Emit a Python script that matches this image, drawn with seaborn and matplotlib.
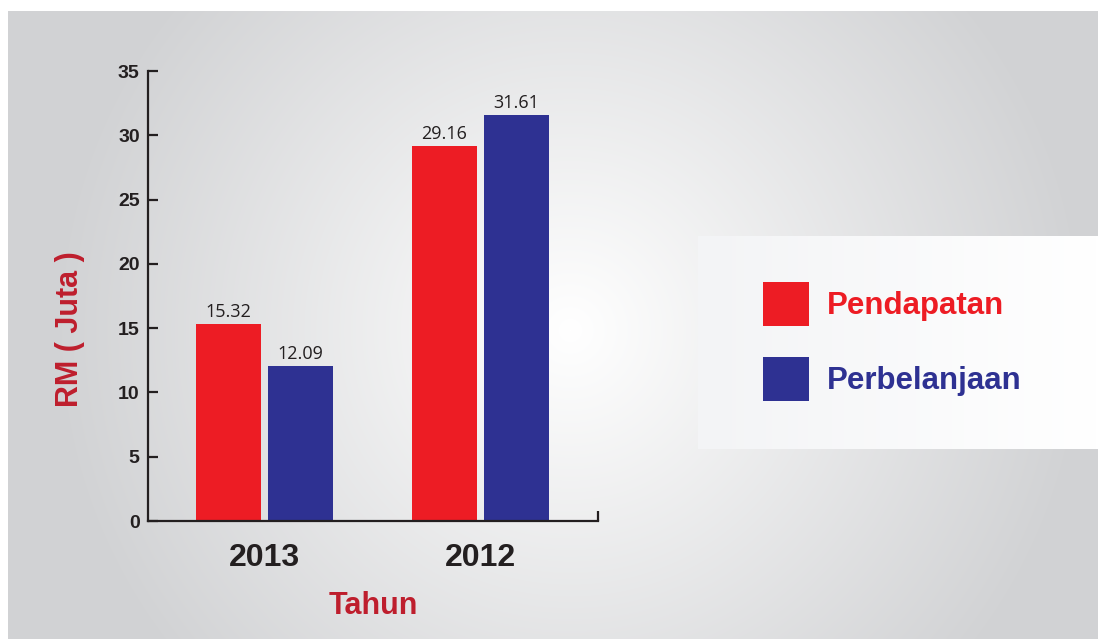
import numpy as np
import pandas as pd
import seaborn as sns
import matplotlib.pyplot as plt
from matplotlib.patches import Patch

# data
tahun = ['2013', '2012']
pendapatan = [15.32, 29.16]
perbelanjaan = [12.09, 31.61]
series = ['Pendapatan', 'Perbelanjaan']
yticks = [0, 5, 10, 15, 20, 25, 30, 35]

RED = '#ED1C24'
BLUE = '#2E3192'
CRIMSON = '#BE1E2D'
INK = '#231F20'

df = pd.DataFrame({
    'Tahun': tahun * 2,
    'Jenis': [series[0]] * 2 + [series[1]] * 2,
    'Nilai': pendapatan + perbelanjaan,
})

sns.set_style('white')
plt.rcParams['font.family'] = ['Liberation Sans', 'DejaVu Sans']

W, H = 1098, 639
fig = plt.figure(figsize=(W / 100, H / 100), dpi=100)
fig.patch.set_facecolor('white')

# background: radial gradient panel + legend box
bg = fig.add_axes([0, 0, 1, 1], zorder=-5)
bg.axis('off')
yy, xx = np.mgrid[11:H, 8:W]
r = np.sqrt((xx - 570) ** 2 + (yy - 330) ** 2)
t = np.clip(r / 520, 0, 1)[..., None]
gray = np.array([209, 210, 212]) / 255
img = (1 - t) * np.ones(3) + t * gray
bg.imshow(img, extent=[8, W, H, 11], aspect='auto', interpolation='bilinear')
gx = np.linspace(0, 1, 200)
c0 = np.array([243, 244, 246]) / 255
box = (1 - gx)[None, :, None] * c0 + gx[None, :, None] * np.ones(3)
box = np.repeat(box, 2, axis=0)
bg.imshow(box, extent=[698, W, 449, 236], aspect='auto')
bg.set_xlim(0, W)
bg.set_ylim(H, 0)

ax = fig.add_axes([148 / W, 1 - 521 / H, 450 / W, 450 / H])
ax.set_facecolor('none')

sns.barplot(data=df, x='Tahun', y='Nilai', hue='Jenis', order=tahun,
            hue_order=series, palette={series[0]: RED, series[1]: BLUE},
            width=0.667, gap=0.1, saturation=1, linewidth=0, ax=ax, legend=False)

for cont in ax.containers:
    ax.bar_label(cont, fmt='%.2f', padding=2, fontsize=13, color=INK,
                 family=['Open Sans', 'DejaVu Sans'])

ax.set_ylim(0, 35)
ax.set_xlim(-0.539, 1.544)
ax.set_yticks(yticks)
ax.set_yticklabels([str(v) for v in yticks], fontsize=14, fontweight='bold', color=INK)
ax.tick_params(axis='y', left=True, direction='in', length=7, width=1.6, color=INK, pad=6)
ax.tick_params(axis='x', which='major', length=0, pad=16, labelsize=23, labelcolor=INK)
for lab in ax.get_xticklabels():
    lab.set_fontweight('bold')
ax.set_xticks([ax.get_xlim()[1]], minor=True)
ax.tick_params(axis='x', which='minor', bottom=True, direction='in', length=7.5,
               width=1.6, color=INK)

for side in ['top', 'right']:
    ax.spines[side].set_visible(False)
for side in ['left', 'bottom']:
    ax.spines[side].set_color(INK)
    ax.spines[side].set_linewidth(1.6)

ax.set_xlabel('Tahun', fontsize=22, fontweight='bold', color=CRIMSON, labelpad=13)
ax.set_ylabel('RM ( Juta )', fontsize=22, fontweight='bold', color=CRIMSON)
ax.yaxis.set_label_coords(-0.141, 0.427)

handles = [Patch(facecolor=RED, edgecolor='none'), Patch(facecolor=BLUE, edgecolor='none')]
fig.legend(handles, series, loc='upper left', bbox_to_anchor=(763 / W, 1 - 282 / H),
           frameon=False, borderpad=0, borderaxespad=0,
           prop={'weight': 'bold', 'size': 22.5},
           handlelength=1.48, handleheight=1.79, handletextpad=0.55,
           labelspacing=1.0, labelcolor=[RED, BLUE])

fig.savefig('out.png', dpi=100)
